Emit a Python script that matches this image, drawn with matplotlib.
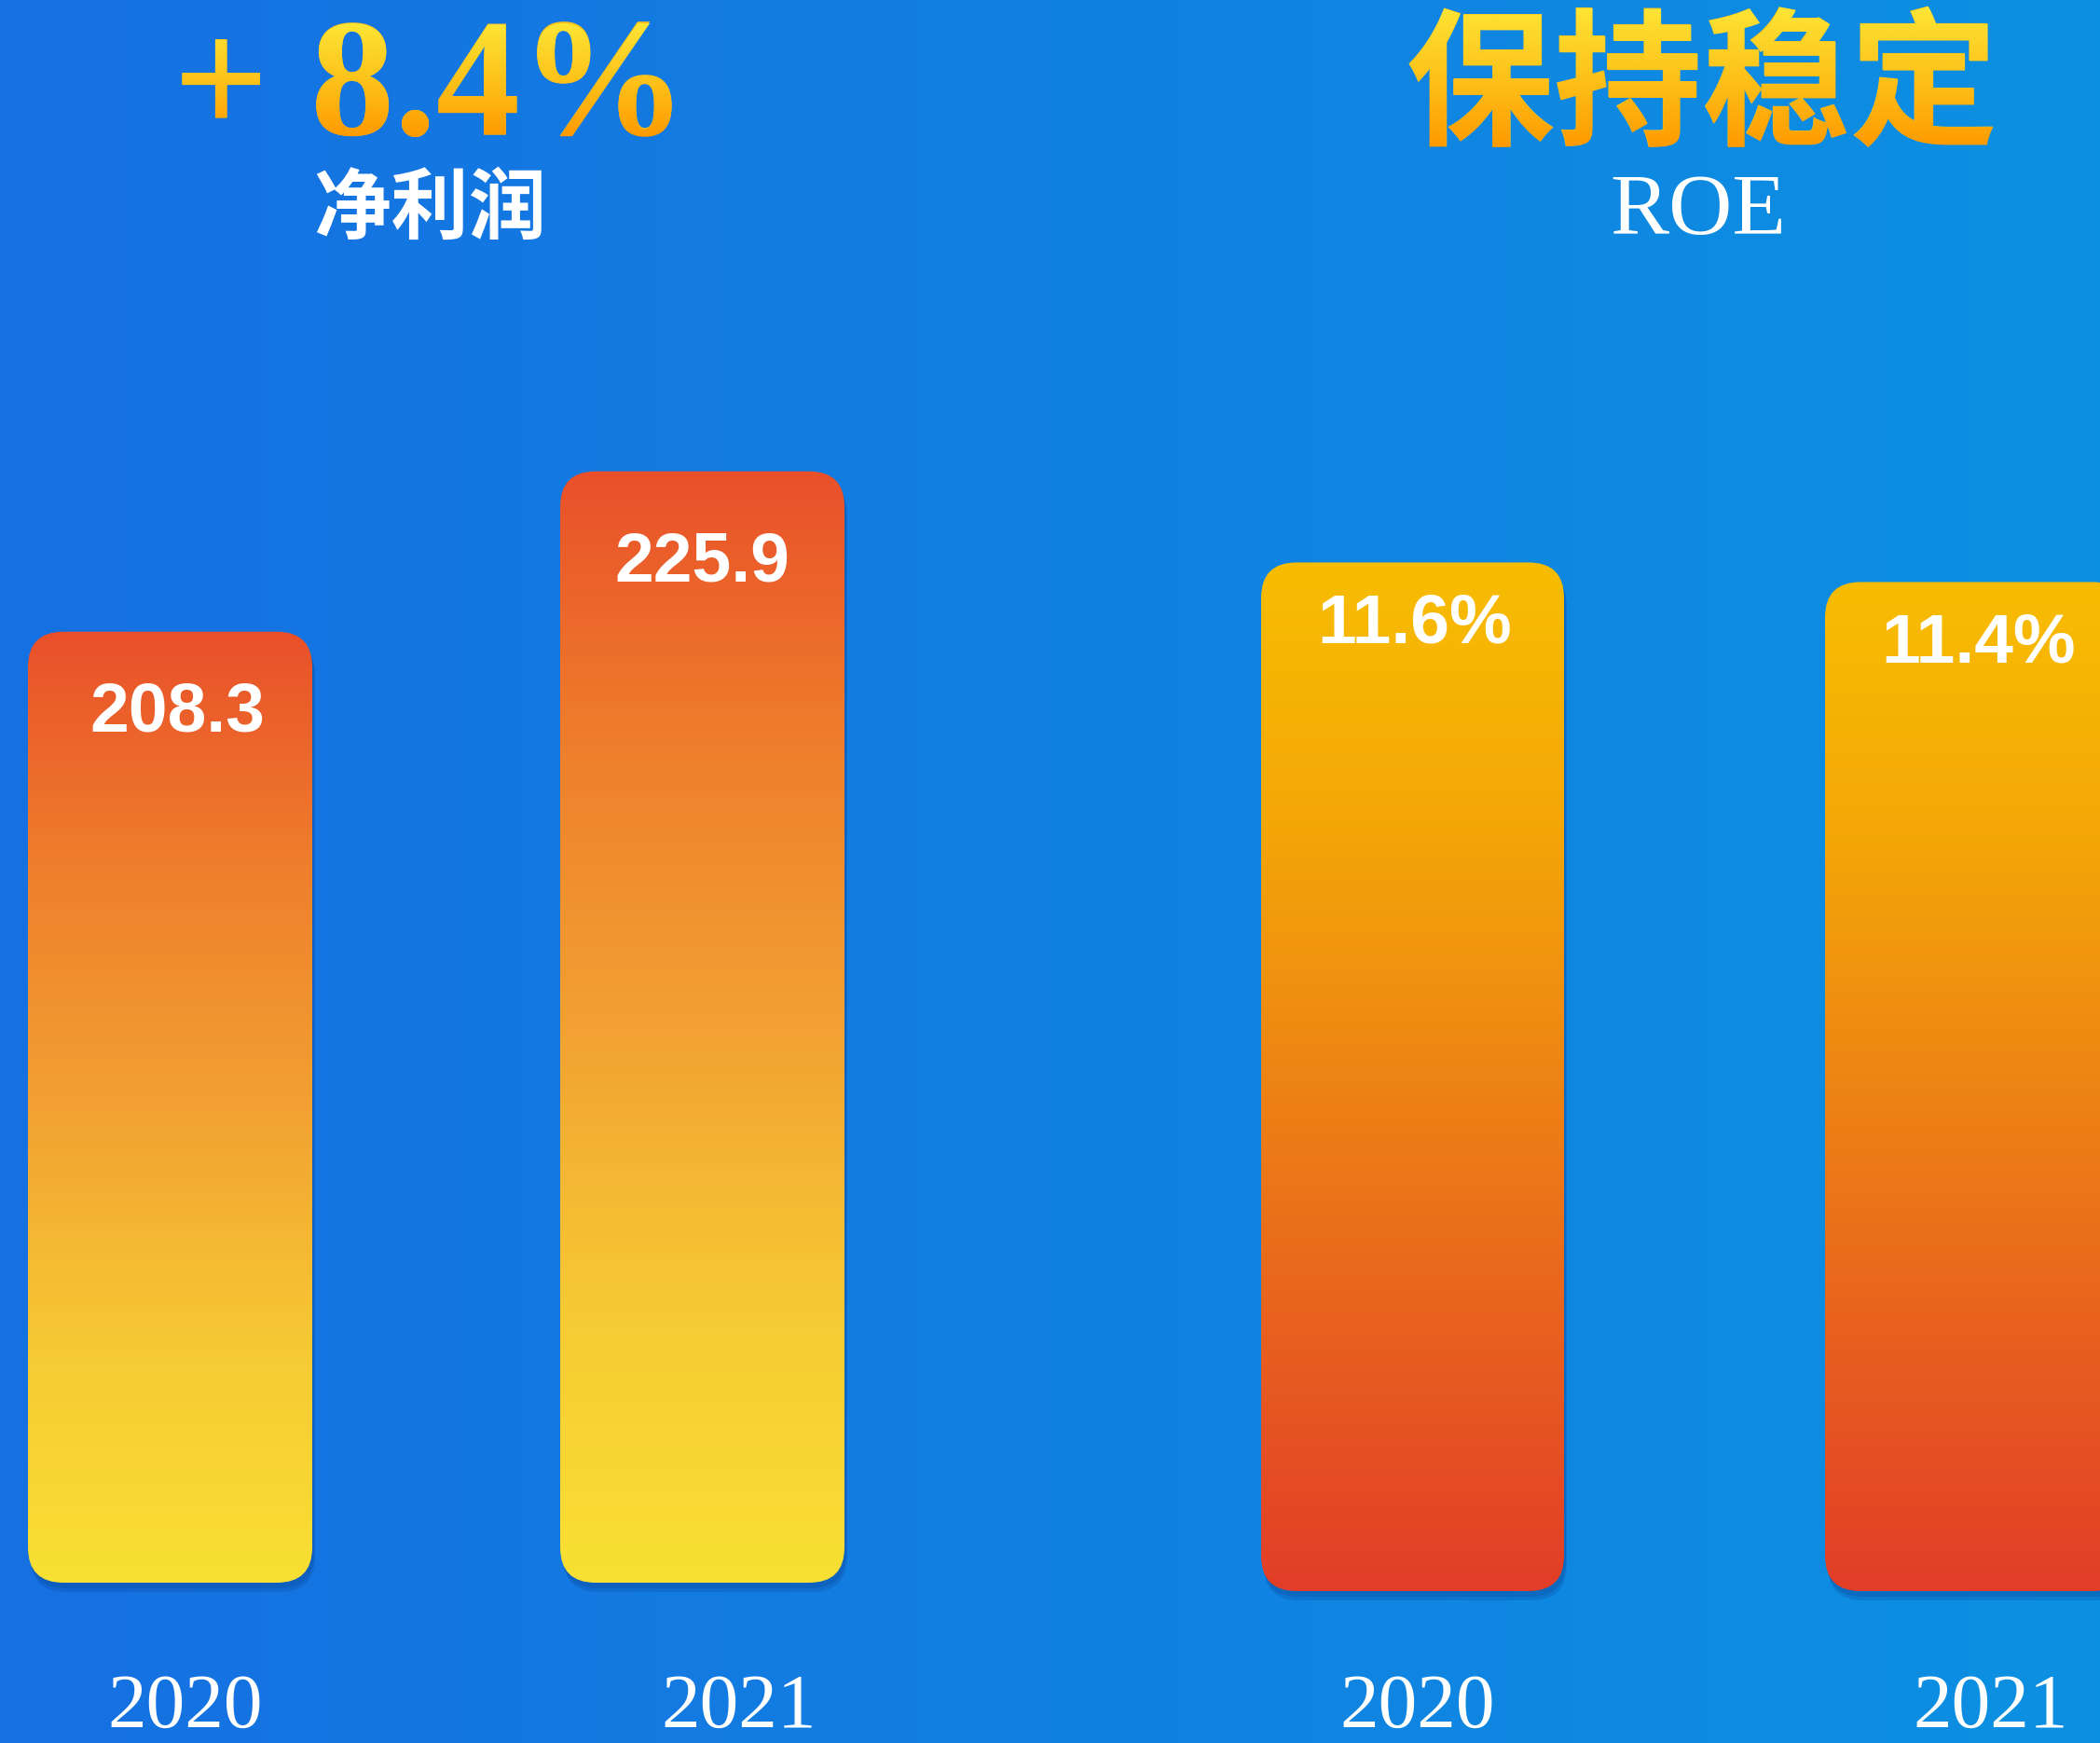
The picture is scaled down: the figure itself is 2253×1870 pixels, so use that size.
import numpy as np
import matplotlib.pyplot as plt
import matplotlib.transforms as mtransforms
from matplotlib.patches import FancyBboxPatch, PathPatch
from matplotlib.textpath import TextPath
from matplotlib.font_manager import FontProperties
from matplotlib.colors import LinearSegmentedColormap

#### datos ####
years = ['2020', '2021']
profit = [208.3, 225.9]
profit_labels = ['208.3', '225.9']
roe = [11.6, 11.4]
roe_labels = ['11.6%', '11.4%']
growth_text = '+ 8.4%'
profit_title = '净利润'
roe_headline = '保持稳定'
roe_title = 'ROE'

W, H = 2253, 1870
fig = plt.figure(figsize=(W / 100, H / 100), dpi=100)


def fx(px):
    return px / W


def fy(py):
    return 1 - py / H


# fondo azul con degradado horizontal
bg = fig.add_axes([0, 0, 1, 1])
bg.axis('off')
bg_cmap = LinearSegmentedColormap.from_list('bg', ['#1670E2', '#0C90E1'])
bg.imshow(np.linspace(0, 1, 256)[None, :], extent=(0, W, H, 0), aspect='auto',
          cmap=bg_cmap, zorder=0)
bg.set_xlim(0, W)
bg.set_ylim(H, 0)

gold = ['#FDE536', '#FDC21A', '#FF9A00']


def gradient_text(s, fp, box, colors):
    # texto real debajo + degradado recortado con la forma del texto encima
    x0, y0, x1, y1 = box
    tp = TextPath((0, 0), s, size=100, prop=fp)
    ext = tp.get_extents()
    k = (y1 - y0) / ext.height
    cx = (x0 + x1) / 2
    ox = cx - k * (ext.x0 + ext.x1) / 2
    oy = y0 + k * ext.y1
    bg.text(ox, oy, s, fontproperties=fp, fontsize=k * 100 * 0.72,
            color=colors[1], ha='left', va='baseline', zorder=2)
    tr = mtransforms.Affine2D().scale(k, -k).translate(ox, oy)
    patch = PathPatch(tr.transform_path(tp), transform=bg.transData,
                      fc='none', ec='none')
    bg.add_patch(patch)
    cm = LinearSegmentedColormap.from_list('t', colors)
    im = bg.imshow(np.linspace(0, 1, 256)[:, None], extent=(0, W, y1, y0),
                   aspect='auto', cmap=cm, zorder=3)
    im.set_clip_path(patch)


serif = FontProperties(family='Liberation Serif', weight='bold')
cjk = FontProperties(family='Noto Sans CJK SC', weight='black')

gradient_text(growth_text, serif, (198, 25, 718, 147), gold)
gradient_text(roe_headline, cjk, (1509, 7, 2141, 158), gold)
bg.set_xlim(0, W)
bg.set_ylim(H, 0)

fig.text(fx(461), fy(250), profit_title, ha='center', va='baseline', color='white',
         fontsize=60, fontweight='bold', family=['Noto Sans CJK SC', 'DejaVu Sans'])
fig.text(fx(1822), fy(251), roe_title, ha='center', va='baseline', color='white',
         fontsize=68, family='Liberation Serif')


def make_axes(x0px, step, base_px, scale, v0, left_px, right_px, top_px):
    ax = fig.add_axes([fx(left_px), fy(base_px), (right_px - left_px) / W,
                       (base_px - top_px) / H])
    ax.set_xlim((left_px - x0px) / step, (right_px - x0px) / step)
    ax.set_ylim(v0, v0 + (base_px - top_px) / scale)
    ax.axis('off')
    ax.patch.set_visible(False)
    return ax


def draw_bars(ax, values, labels, width, colors, label_px, label_dx, year_dx):
    base = ax.get_ylim()[0]
    x = np.arange(len(values))
    bars = ax.bar(x, np.array(values) - base, bottom=base, width=width, color='none')
    p0 = ax.transData.transform((0, 0))
    p1 = ax.transData.transform((1, 1))
    ux = 1 / (p1[0] - p0[0])
    uy = 1 / (p1[1] - p0[1])
    r = 38
    cm = LinearSegmentedColormap.from_list('bar', colors)
    tr = mtransforms.blended_transform_factory(ax.transData, fig.transFigure)
    for i, rect in enumerate(bars):
        bx, by = rect.get_x(), rect.get_y()
        bw, bh = rect.get_width(), rect.get_height()
        style = 'round,pad=0,rounding_size=%f' % (r * ux)
        # sombra
        for dx, dy, a in [(3, 10, 0.25), (2, 6, 0.25)]:
            sh = FancyBboxPatch((bx + dx * ux, by - dy * uy), bw, bh, boxstyle=style,
                                mutation_aspect=uy / ux, fc='#0A4596', ec='none',
                                alpha=a, zorder=1, clip_on=False)
            ax.add_patch(sh)
        patch = FancyBboxPatch((bx, by), bw, bh, boxstyle=style,
                               mutation_aspect=uy / ux, fc='none', ec='none', zorder=2)
        ax.add_patch(patch)
        im = ax.imshow(np.linspace(0, 1, 256)[:, None], extent=(bx, bx + bw, by, by + bh),
                       aspect='auto', cmap=cm, origin='upper', zorder=2)
        im.set_clip_path(patch)
        ax.text(i + label_dx[i] * ux, values[i] - label_px[i] * uy, labels[i],
                ha='center', va='baseline', color='white', fontsize=54,
                fontweight='bold', family='Liberation Sans', zorder=4)
        ax.text(i + year_dx[i] * ux, fy(1853), years[i], transform=tr, ha='center',
                va='baseline', color='white', fontsize=60, family='Liberation Serif',
                clip_on=False)


ax1 = make_axes(182.5, 571, 1698, 9.773, 103.9, 0, 1000, 300)
draw_bars(ax1, profit, profit_labels, 305 / 571,
          ['#E9502A', '#EF7F2C', '#F2A132', '#F6C934', '#F9E033'],
          [107, 118], [8, 0], [16, 39])

ax2 = make_axes(1515.5, 605, 1707, 105, 1.09, 1100, W, 300)
draw_bars(ax2, roe, roe_labels, 325 / 605,
          ['#F8BD02', '#F4A708', '#EE8414', '#E8601F', '#E23D28'],
          [86, 86], [2, 2], [5, 15])

plt.savefig('out.png', dpi=100)
